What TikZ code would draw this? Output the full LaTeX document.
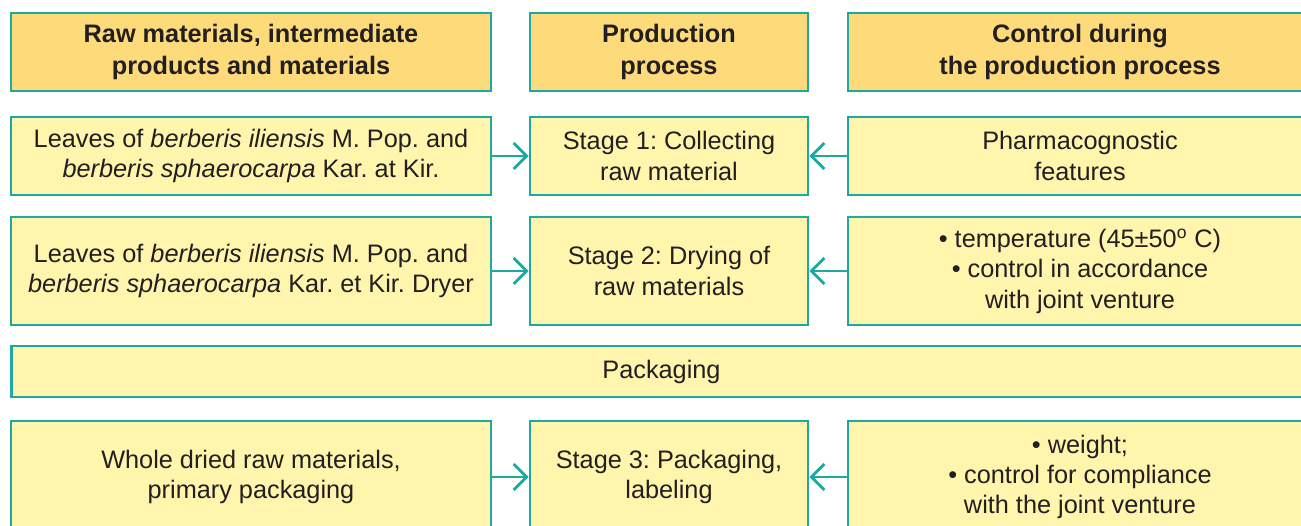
\documentclass[tikz,border=0pt]{standalone}
\usepackage{fontspec}
\setmainfont{Liberation Sans}
\usetikzlibrary{arrows.meta}
\definecolor{boxline}{HTML}{1BA9A0}
\definecolor{headfill}{HTML}{FDDB7B}
\definecolor{cellfill}{HTML}{FFF5AD}
\definecolor{inktext}{HTML}{231F20}
\frenchspacing
\begin{document}
\begin{tikzpicture}[x=0.02cm,y=-0.02cm,
    cell/.style={draw=boxline,fill=cellfill,line width=1.6pt,inner sep=0pt,align=center,text=inktext,
      font=\fontsize{14.4}{17.3}\selectfont},
    head/.style={cell,fill=headfill,minimum height=1.56cm,font=\fontsize{14.4}{18.2}\selectfont\bfseries},
    leftcol/.style={minimum width=9.6cm},
    midcol/.style={minimum width=5.56cm},
    rightcol/.style={minimum width=9.28cm},
    feed/.style={draw=boxline,line width=1.6pt,-{Straight Barb[length=0.26cm,width=0.52cm]}}]
    \clip (0,0) rectangle (1301,526);
    % column heads
    \node[head,leftcol] (hRaw) at (251,52) {Raw materials, intermediate\\products and materials};
    \node[head,midcol] (hProc) at (669,52) {Production\\process};
    \node[head,rightcol] (hCtrl) at (1080,52) {Control during\\the production process};
    % stage 1
    \node[cell,leftcol,minimum height=1.56cm] (rawA) at (251,156) {Leaves of \textit{berberis iliensis} M. Pop. and\\\textit{berberis sphaerocarpa} Kar. at Kir.};
    \node[cell,midcol,minimum height=1.56cm] (procA) at (669,156) {Stage 1: Collecting\\raw material};
    \node[cell,rightcol,minimum height=1.56cm] (ctrlA) at (1080,156) {Pharmacognostic\\features};
    % stage 2
    \node[cell,leftcol,minimum height=2.16cm] (rawB) at (251,271) {Leaves of \textit{berberis iliensis} M. Pop. and\\\textit{berberis sphaerocarpa} Kar. et Kir. Dryer};
    \node[cell,midcol,minimum height=2.16cm] (procB) at (669,271) {Stage 2: Drying of\\raw materials};
    \node[cell,rightcol,minimum height=2.16cm] (ctrlB) at (1080,271) {• temperature (45±50\textsuperscript{o} C)\\• control in accordance\\with joint venture};
    % packaging band
    \node[cell,minimum width=26.02cm,minimum height=1.02cm] (pack) at (661.5,371.5) {Packaging};
    % stage 3
    \node[cell,leftcol,minimum height=2.24cm] (rawC) at (251,477) {Whole dried raw materials,\\primary packaging};
    \node[cell,midcol,minimum height=2.24cm] (procC) at (669,477) {Stage 3: Packaging,\\labeling};
    \node[cell,rightcol,minimum height=2.24cm] (ctrlC) at (1080,477) {• weight;\\• control for compliance\\with the joint venture};
    % arrows
    \draw[feed] (rawA.east) -- (procA.west);
    \draw[feed] (ctrlA.west) -- (procA.east);
    \draw[feed] (rawB.east) -- (procB.west);
    \draw[feed] (ctrlB.west) -- (procB.east);
    \draw[feed] (rawC.east) -- (procC.west);
    \draw[feed] (ctrlC.west) -- (procC.east);
\end{tikzpicture}
\end{document}
